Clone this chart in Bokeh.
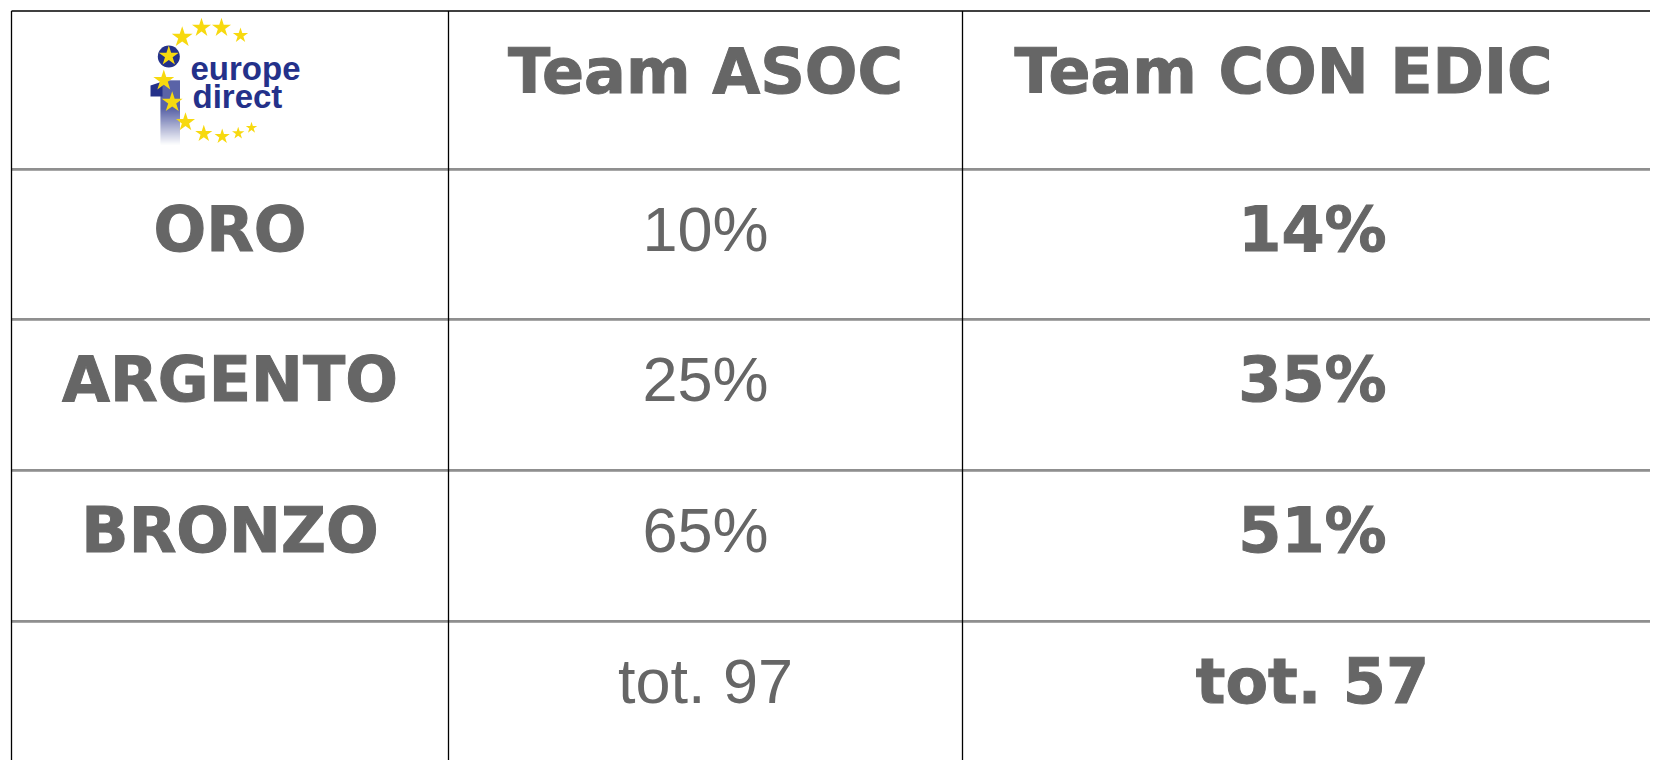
from bokeh.plotting import figure
from bokeh.models import Range1d
from bokeh.core.properties import value
from bokeh.embed import file_html
from bokeh.resources import INLINE

# ---------------- data ----------------
row_labels = ["ORO", "ARGENTO", "BRONZO", ""]
team_names = ["Team ASOC", "Team CON EDIC"]
asoc_pct = [10, 25, 65]
edic_pct = [14, 35, 51]
asoc_tot = 97
edic_tot = 57
logo_words = ["europe", "direct"]

# ---------------- layout (page pixels) ----------------
W, H = 1650, 760
col_edges = [11, 448, 962, 1662]
row_edges = [10.5, 168.5, 318.5, 469.5, 620.5, 771]
baseline_off = 60
header3_shift = -29
text_dy = -23  # correction for text baseline placement

GRAY = "#666666"
BOLD_FONT = value("DejaVu Sans")
REG_FONT = value("Liberation Sans")
FS = value("62px")

p = figure(width=W, height=H, output_backend="svg", toolbar_location=None,
           x_range=Range1d(0, W), y_range=Range1d(H, 0),
           x_axis_location=None, y_axis_location=None,
           min_border=0, outline_line_color=None,
           background_fill_color="white", border_fill_color="white")
p.xgrid.visible = False
p.ygrid.visible = False

# ---------------- grid lines ----------------
p.segment(x0=[col_edges[0]], y0=[row_edges[0]], x1=[W + 10], y1=[row_edges[0]],
          line_color="black", line_width=1.6)
hy = row_edges[1:5]
p.segment(x0=[col_edges[0]] * len(hy), y0=hy, x1=[W + 10] * len(hy), y1=hy,
          line_color="#6a6a6a", line_width=1.6)
p.segment(x0=[col_edges[0]] * len(hy), y0=[y + 1.5 for y in hy],
          x1=[W + 10] * len(hy), y1=[y + 1.5 for y in hy],
          line_color="#a8a8a8", line_width=1.2)
vx = col_edges[:3]
p.segment(x0=vx, y0=[row_edges[0]] * 3, x1=vx, y1=[H + 10] * 3,
          line_color="black", line_width=1.3)

# ---------------- texts ----------------
def center(a, b):
    return (a + b) / 2.0

c1 = center(col_edges[0], col_edges[1])
c2 = center(col_edges[1], col_edges[2])
c3 = center(col_edges[2], col_edges[3])
base = [row_edges[i] + baseline_off for i in range(5)]

bold_kw = dict(text_font=BOLD_FONT, text_font_style="bold", text_font_size=FS,
               text_color=GRAY, text_outline_color=GRAY,
               text_align="center", text_baseline="alphabetic")

p.text(x=[c2, c3 + header3_shift], y=[base[0], base[0]], text=team_names, **bold_kw)
p.text(x=[c1] * len(row_labels), y=base[1:], text=row_labels, **bold_kw)

asoc_txt = [f"{v}%" for v in asoc_pct] + [f"tot. {asoc_tot}"]
p.text(x=[c2] * 4, y=base[1:], text=asoc_txt,
       text_font=REG_FONT, text_font_style="normal", text_font_size=value("63px"),
       text_color=GRAY, text_align="center", text_baseline="alphabetic")

edic_txt = [f"{v}%" for v in edic_pct] + [f"tot. {edic_tot}"]
p.text(x=[c3] * 4, y=base[1:], text=edic_txt, **bold_kw)

# ---------------- logo ----------------
BLUE = "#24318a"
YELLOW = "#f7d90f"

top, solid_end, bottom = 80, 108, 144
ys0, ys1, cols = [], [], []
for yy in range(top, bottom):
    t = 0.0 if yy < solid_end else (yy - solid_end) / (bottom - solid_end)
    r0, g0, b0 = 0x24, 0x31, 0x8a
    r = int(r0 + (255 - r0) * t)
    g = int(g0 + (255 - g0) * t)
    b = int(b0 + (255 - b0) * t)
    ys0.append(yy)
    ys1.append(yy + 1)
    cols.append(f"#{r:02x}{g:02x}{b:02x}")
p.quad(left=[160] * len(ys0), right=[179.5] * len(ys0), top=ys0, bottom=ys1,
       fill_color=cols, line_color=None)
p.patch(x=[150, 162, 162, 150], y=[85, 81, 96, 96], fill_color=BLUE, line_color=None)
p.scatter(x=[168.3], y=[56], size=22, marker="circle", fill_color=BLUE, line_color=None)

star_x = [181.7, 201.0, 221.0, 240.0, 168.3, 163.3, 171.7, 185.0, 203.3, 221.7, 237.7, 251.0]
star_y = [36.7, 27.3, 27.3, 35.0, 55.5, 80.0, 101.7, 121.7, 133.3, 136.0, 132.7, 127.3]
star_s = [22, 20, 20, 16, 21, 22, 22, 20, 18, 16, 13, 12]
p.scatter(x=star_x, y=star_y, size=star_s, marker="star",
          fill_color=YELLOW, line_color=None)

p.text(x=[190, 192], y=[80 + text_dy * 12 / 23, 107.5 + text_dy * 12 / 23], text=logo_words,
       text_font=value("Liberation Sans"), text_font_style="bold",
       text_font_size=value("33px"), text_color=BLUE,
       text_align="left", text_baseline="alphabetic")

open("out.html", "w").write(file_html(p, INLINE))
